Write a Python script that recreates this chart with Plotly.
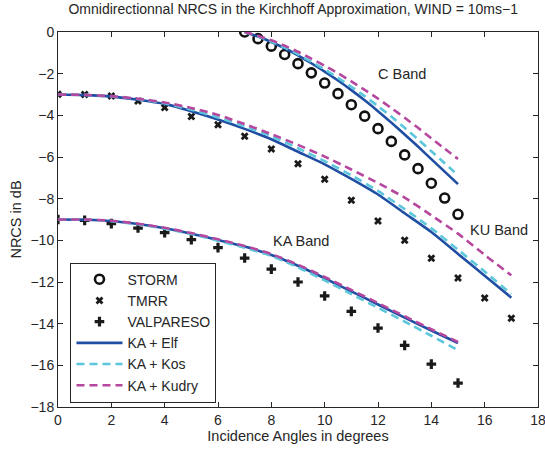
import plotly.graph_objects as go

# ---- measured points ----
storm_x = [7, 7.5, 8, 8.5, 9, 9.5, 10, 10.5, 11, 11.5, 12, 12.5, 13, 13.5, 14, 14.5, 15]
storm_y = [0, -0.32, -0.68, -1.08, -1.52, -1.96, -2.45, -2.96, -3.49, -4.04, -4.64, -5.25,
           -5.9, -6.56, -7.26, -7.97, -8.75]

tmrr_x = list(range(0, 18))
tmrr_y = [-2.99, -3.0, -3.07, -3.31, -3.63, -4.06, -4.45, -5.0, -5.62, -6.32, -7.07, -8.08,
          -9.07, -10.0, -10.86, -11.81, -12.77, -13.74]

valp_x = list(range(0, 16))
valp_y = [-9.0, -9.04, -9.2, -9.41, -9.63, -9.97, -10.35, -10.85, -11.38, -12.0, -12.67,
          -13.41, -14.21, -15.04, -15.94, -16.85]

# ---- KA model curves ----
c_x = [7, 7.5, 8, 8.5, 9, 9.5, 10, 10.5, 11, 11.5, 12, 12.5, 13, 13.5, 14, 14.5, 15]
c_elf = [0, -0.22, -0.48, -0.78, -1.12, -1.5, -1.9, -2.33, -2.79, -3.28, -3.8, -4.35,
         -4.92, -5.5, -6.1, -6.7, -7.3]
c_kos = [0, -0.21, -0.46, -0.75, -1.07, -1.43, -1.8, -2.2, -2.63, -3.08, -3.56, -4.06,
         -4.6, -5.15, -5.72, -6.3, -6.88]
c_kudry = [0, -0.18, -0.4, -0.66, -0.95, -1.28, -1.62, -1.98, -2.37, -2.78, -3.2, -3.65,
           -4.12, -4.6, -5.1, -5.6, -6.1]

ku_x = list(range(0, 18))
ku_elf = [-3.0, -3.03, -3.1, -3.25, -3.45, -3.8, -4.2, -4.65, -5.15, -5.75, -6.35, -7.05,
          -7.8, -8.7, -9.6, -10.65, -11.7, -12.75]
ku_kos = [-3.0, -3.02, -3.08, -3.22, -3.42, -3.73, -4.1, -4.53, -5.0, -5.58, -6.2, -6.88,
          -7.63, -8.5, -9.42, -10.45, -11.5, -12.58]
ku_kudry = [-3.0, -3.02, -3.08, -3.2, -3.38, -3.65, -3.98, -4.42, -4.9, -5.42, -5.98, -6.6,
            -7.25, -7.95, -8.8, -9.68, -10.7, -11.68]

ka_x = list(range(0, 16))
ka_elf = [-9.0, -9.01, -9.07, -9.22, -9.42, -9.68, -9.98, -10.3, -10.7, -11.22, -11.82,
          -12.45, -13.08, -13.71, -14.33, -14.93]
ka_kos = [-9.0, -9.01, -9.08, -9.23, -9.44, -9.7, -10.02, -10.36, -10.75, -11.3, -11.92,
          -12.58, -13.24, -13.9, -14.58, -15.27]
ka_kudry = [-9.0, -9.0, -9.06, -9.2, -9.4, -9.65, -9.95, -10.27, -10.66, -11.17, -11.76,
            -12.38, -13.01, -13.64, -14.27, -14.88]

band_labels = ["C Band", "KU Band", "KA Band"]
band_label_x = [12.9, 16.55, 9.1]
band_label_y = [-2.0, -9.5, -10.05]

ELF = "#1f4ea3"
KOS = "#5cc6dc"
KUDRY = "#b6479f"
INK = "#262626"
FONT = "Liberation Sans, Arial, sans-serif"

fig = go.Figure()

# measurements
fig.add_trace(go.Scatter(x=storm_x, y=storm_y, mode="markers", name="STORM",
                         marker=dict(symbol="circle-open", size=9, color="#111111",
                                     line=dict(width=2.6, color="#111111"))))
fig.add_trace(go.Scatter(x=tmrr_x, y=tmrr_y, mode="markers", name="TMRR",
                         marker=dict(symbol="x", size=7, color="#1a1a1a",
                                     line=dict(width=0))))
fig.add_trace(go.Scatter(x=valp_x, y=valp_y, mode="markers", name="VALPARESO",
                         marker=dict(symbol="cross", size=8, color="#1a1a1a",
                                     line=dict(width=0))))

# model curves, one legend entry per model
curve_sets = [
    ("KA + Elf", ELF, "solid", [(c_x, c_elf), (ku_x, ku_elf), (ka_x, ka_elf)]),
    ("KA + Kos", KOS, "8px,5px", [(c_x, c_kos), (ku_x, ku_kos), (ka_x, ka_kos)]),
    ("KA + Kudry", KUDRY, "8px,5px", [(c_x, c_kudry), (ku_x, ku_kudry), (ka_x, ka_kudry)]),
]
for name, color, dash, segs in curve_sets:
    for i, (xs, ys) in enumerate(segs):
        fig.add_trace(go.Scatter(x=xs, y=ys, mode="lines", name=name,
                                 legendgroup=name, showlegend=(i == 0),
                                 line=dict(color=color, width=2.6, dash=dash,
                                           shape="spline", smoothing=0.6)))

for txt, tx, ty in zip(band_labels, band_label_x, band_label_y):
    fig.add_annotation(x=tx, y=ty, text=txt, showarrow=False,
                       font=dict(size=14.5, color=INK, family=FONT))

axis_common = dict(showline=True, linecolor=INK, linewidth=1, mirror="ticks",
                   ticks="inside", ticklen=5, tickwidth=1, tickcolor=INK,
                   showgrid=False, zeroline=False, ticklabeloverflow="allow",
                   automargin=False,
                   tickfont=dict(size=14, color=INK, family=FONT))

fig.update_xaxes(range=[0, 18], dtick=2, tick0=0,
                 title=dict(text="Incidence Angles in degrees", standoff=3,
                            font=dict(size=14.5, color=INK, family=FONT)),
                 **axis_common)
fig.update_yaxes(range=[-18, 0], dtick=2, tick0=0,
                 title=dict(text="NRCS in dB", standoff=5,
                            font=dict(size=14.5, color=INK, family=FONT)),
                 **axis_common)

fig.update_layout(
    width=545, height=450,
    margin=dict(l=58, r=7, t=32, b=43),
    paper_bgcolor="white", plot_bgcolor="white",
    title=dict(text="Omnidirectionnal NRCS in the Kirchhoff Approximation, WIND = 10ms\u22121",
               x=0.538, xanchor="center", y=0.99, yanchor="top",
               font=dict(size=14, color=INK, family=FONT)),
    legend=dict(x=0.026, y=0.385, xanchor="left", yanchor="top",
                bgcolor="white", bordercolor=INK, borderwidth=1,
                font=dict(size=14, color=INK, family=FONT),
                itemwidth=46, tracegroupgap=0),
    showlegend=True,
)

fig.write_html("out.html")
